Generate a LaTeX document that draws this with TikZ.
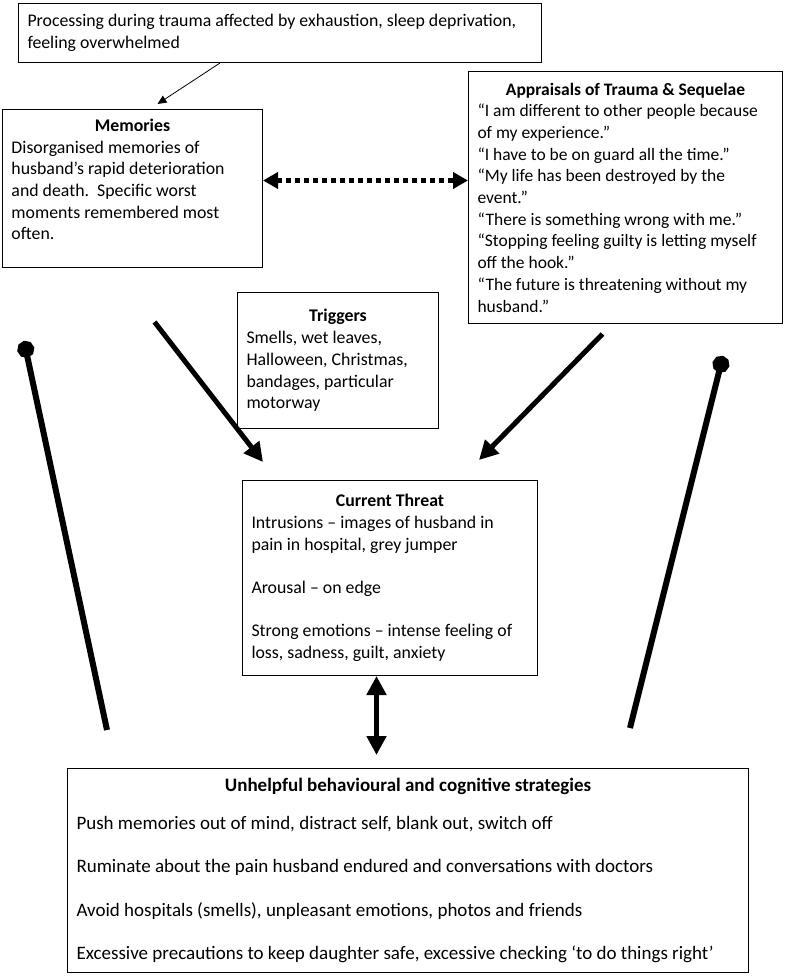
\documentclass[tikz,border=0pt]{standalone}
\usepackage{fontspec}
\setmainfont{Carlito}
\usetikzlibrary{arrows.meta,positioning}
\frenchspacing

\newcommand{\boxhead}[1]{{\centering\bfseries #1\par}}

\tikzset{
  box/.style={draw,line width=1pt,anchor=north west,align=flush left,
    inner xsep=9pt,inner ysep=0pt,font=\fontsize{17.8}{21.7}\selectfont},
  thin arrow/.style={line width=0.8pt,-{Triangle[length=9pt,width=8pt]}},
  thick arrow/.style={line width=5pt,-{Triangle[length=19pt,width=19pt]}},
  dot line/.style={line width=6pt,-{Circle[length=17pt]}},
}

\begin{document}
\begin{tikzpicture}[x=1pt,y=-1pt]
  \useasboundingbox (0,0) rectangle (792,980);

  \node[box,text width=505pt,minimum height=59pt] (proc) at (18,3)
    {Processing during trauma affected by exhaustion, sleep deprivation,\\
     feeling overwhelmed};
  \node[box,text width=242pt,minimum height=158pt] (mem) at (2,109)
    {\boxhead{Memories}
     Disorganised memories of\\
     husband’s rapid deterioration\\
     and death.~ Specific worst\\
     moments remembered most\\
     often.\par\vspace{18pt}\hrule height 0pt};
  \node[box,text width=296pt,minimum height=252pt,
        font=\fontsize{17.5}{21.7}\selectfont] (appr) at (468,71)
    {\boxhead{Appraisals of Trauma \& Sequelae}
     “I am different to other people because\\
     of my experience.”\\
     “I have to be on guard all the time.”\\
     “My life has been destroyed by the\\
     event.”\\
     “There is something wrong with me.”\\
     “Stopping feeling guilty is letting myself\\
     off the hook.”\\
     “The future is threatening without my\\
     husband.”};
  \node[box,text width=183pt,minimum height=136pt] (trig) at (237,292)
    {\boxhead{Triggers}
     Smells, wet leaves,\\
     Halloween, Christmas,\\
     bandages, particular\\
     motorway};
  \node[box,text width=277pt,minimum height=195pt] (thr) at (242,480)
    {\boxhead{Current Threat}
     Intrusions – images of husband in\\
     pain in hospital, grey jumper\\[21.7pt]
     Arousal – on edge\\[21.7pt]
     Strong emotions – intense feeling of\\
     loss, sadness, guilt, anxiety};
  \node[box,text width=663pt,minimum height=204pt,
        font=\fontsize{19}{21.7}\selectfont] (strat) at (67,768)
    {\boxhead{Unhelpful behavioural and cognitive strategies}\vspace{16pt}
     Push memories out of mind, distract self, blank out, switch off\\[21.5pt]
     Ruminate about the pain husband endured and conversations with doctors\\[21.5pt]
     Avoid hospitals (smells), unpleasant emotions, photos and friends\\[21.5pt]
     Excessive precautions to keep daughter safe, excessive checking ‘to do things right’};

  % free ends of the two feedback lines
  \coordinate (ldot) at (24,341);
  \coordinate (rdot) at (723,356);

  \draw[thin arrow] ([xshift=-60pt]proc.south) -- ([xshift=25pt,yshift=5pt]mem.north);
  \draw[line width=5pt,dash pattern=on 5pt off 4pt,
        {Triangle[length=15pt,width=16pt]}-{Triangle[length=15pt,width=16pt]}]
    ([yshift=8pt]mem.east) -- ([yshift=8pt]mem.east -| appr.west);
  \draw[thick arrow] ([xshift=22pt,yshift=-54pt]mem.south)
    -- ([xshift=21pt,yshift=18pt]thr.north west);
  \draw[thick arrow] ([xshift=-23pt,yshift=-10pt]appr.south)
    -- ([xshift=-59pt,yshift=20pt]thr.north east);
  \draw[line width=5pt,{Triangle[length=19pt,width=19pt]}-{Triangle[length=19pt,width=19pt]},
        shorten >=13pt]
    ([xshift=-13.5pt]thr.south) -- ([xshift=-13.5pt]thr.south |- strat.north);
  \draw[dot line] ([xshift=40pt,yshift=38pt]strat.north west) -- (ldot);
  \draw[dot line] ([xshift=-119pt,yshift=40pt]strat.north east) -- (rdot);
\end{tikzpicture}
\end{document}
